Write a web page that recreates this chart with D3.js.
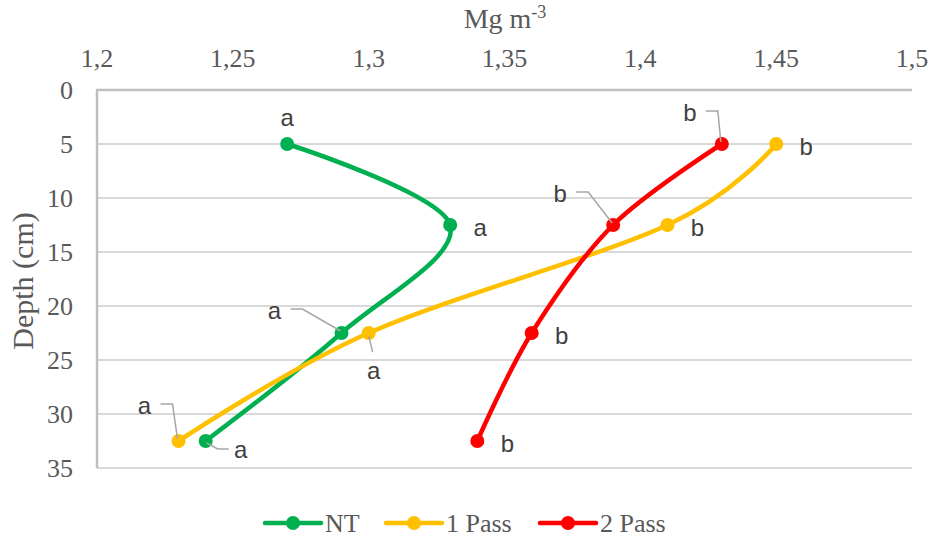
<!DOCTYPE html>
<html>
<head>
<meta charset="utf-8">
<script src="https://cdn.jsdelivr.net/npm/d3@7.9.0/dist/d3.min.js"></script>
<style>
  body { margin: 0; background: #fff; }
</style>
</head>
<body>
<svg width="933" height="538"></svg>
<script>
// data
const depths = [5, 12.5, 22.5, 32.5];
const seriesNames = ["NT", "1 Pass", "2 Pass"];
const ntValues = [1.27, 1.33, 1.29, 1.24];
const pass1Values = [1.45, 1.41, 1.30, 1.23];
const pass2Values = [1.43, 1.39, 1.36, 1.34];
const ntLetters = ["a", "a", "a", "a"];
const pass1Letters = ["b", "b", "a", "a"];
const pass2Letters = ["b", "b", "b", "b"];
const xTicks = [1.2, 1.25, 1.3, 1.35, 1.4, 1.45, 1.5];
const yTicks = [0, 5, 10, 15, 20, 25, 30, 35];

const colors = ["#00b050", "#ffc000", "#ff0000"];
const SERIF = "'Liberation Serif', 'Times New Roman', 'DejaVu Serif', serif";
const SANS = "'Liberation Sans', Arial, sans-serif";

// label placement: [dx, dy, leader type] relative to the point
// leader: 0 none, 1 stub above-left, 2 below, 3 right-down
const ntPlace = [[0, -26, 0], [30, 3, 0], [-67, -22, 1], [35, 9, 3]];
const pass1Place = [[30, 3, 0], [30, 3, 0], [5, 38, 2], [-34, -35, 1]];
const pass2Place = [[-32, -31, 1], [-53, -31, 1], [30, 3, 0], [30, 3, 0]];

const series = [
  { name: seriesNames[0], values: ntValues, letters: ntLetters, place: ntPlace, color: colors[0] },
  { name: seriesNames[1], values: pass1Values, letters: pass1Letters, place: pass1Place, color: colors[1] },
  { name: seriesNames[2], values: pass2Values, letters: pass2Letters, place: pass2Place, color: colors[2] }
];

const svg = d3.select("svg");
const x = d3.scaleLinear().domain([1.2, 1.5]).range([97, 912]);
const y = d3.scaleLinear().domain([0, 35]).range([90, 468]);
const fmt = d => String(d).replace(".", ",");

// gridlines
svg.append("g").selectAll("line").data(yTicks.slice(1)).join("line")
  .attr("x1", x(1.2)).attr("x2", x(1.5))
  .attr("y1", d => y(d)).attr("y2", d => y(d))
  .attr("stroke", "#d9d9d9").attr("stroke-width", 2);

// axes lines
svg.append("line").attr("x1", x(1.2) - 1).attr("x2", x(1.5)).attr("y1", y(0)).attr("y2", y(0))
  .attr("stroke", "#bfbfbf").attr("stroke-width", 2.5);
svg.append("line").attr("x1", x(1.2)).attr("x2", x(1.2)).attr("y1", y(0)).attr("y2", y(35))
  .attr("stroke", "#bfbfbf").attr("stroke-width", 2.5);

// tick labels
svg.append("g").selectAll("text").data(xTicks).join("text")
  .attr("x", d => x(d)).attr("y", 67)
  .attr("text-anchor", "middle").attr("font-size", 26)
  .attr("font-family", SERIF).attr("fill", "#595959")
  .text(fmt);
svg.append("g").selectAll("text").data(yTicks).join("text")
  .attr("x", 73).attr("y", d => y(d) + 9)
  .attr("text-anchor", "end").attr("font-size", 26)
  .attr("font-family", SERIF).attr("fill", "#595959")
  .text(d => d);

// axis titles
const xt = svg.append("text").attr("x", 505).attr("y", 28)
  .attr("text-anchor", "middle").attr("font-size", 28)
  .attr("font-family", SERIF).attr("fill", "#595959");
xt.append("tspan").text("Mg m");
xt.append("tspan").attr("dy", -10).attr("font-size", 18).text("-3");
svg.append("text").attr("transform", "translate(33,281) rotate(-90)")
  .attr("text-anchor", "middle").attr("font-size", 30)
  .attr("font-family", SERIF).attr("fill", "#595959").text("Depth (cm)");

// lines
const line = d3.line().x(d => x(d[0])).y(d => y(d[1])).curve(d3.curveCatmullRom.alpha(0));

series.forEach(s => {
  const pts = s.values.map((v, i) => [v, depths[i]]);
  svg.append("path").datum(pts).attr("d", line)
    .attr("fill", "none").attr("stroke", s.color).attr("stroke-width", 4.5)
    .attr("stroke-linecap", "round");
  svg.append("g").selectAll("circle").data(pts).join("circle")
    .attr("cx", d => x(d[0])).attr("cy", d => y(d[1])).attr("r", 7)
    .attr("fill", s.color);
});

// data labels with leader lines
series.forEach(s => {
  s.values.forEach((v, i) => {
    const px = x(v), py = y(depths[i]);
    const [dx, dy, leader] = s.place[i];
    const lx = px + dx, ly = py + dy;
    let pts = null;
    if (leader === 1) pts = [[lx + 16, ly - 2], [lx + 28, ly - 2], [px - 1, py - 2]];
    if (leader === 2) pts = [[px, py + 3], [px + 4, py + 19]];
    if (leader === 3) pts = [[px + 1, py + 2], [px + 12, py + 8], [lx - 12, py + 8]];
    if (pts) {
      svg.append("polyline").attr("points", pts.map(p => p.join(",")).join(" "))
        .attr("fill", "none").attr("stroke", "#a6a6a6").attr("stroke-width", 1.5);
    }
    svg.append("text")
      .attr("x", lx).attr("y", ly + 8)
      .attr("text-anchor", "middle").attr("font-size", 24)
      .attr("font-family", SANS).attr("fill", "#404040")
      .text(s.letters[i]);
  });
});

// legend
const legendX = [265, 386, 540];
series.forEach((s, i) => {
  const g = svg.append("g").attr("transform", `translate(${legendX[i]},523)`);
  g.append("line").attr("x1", 0).attr("x2", 56).attr("stroke", s.color).attr("stroke-width", 4.5)
    .attr("stroke-linecap", "round");
  g.append("circle").attr("cx", 28).attr("r", 7).attr("fill", s.color);
  g.append("text").attr("x", 60).attr("y", 9).attr("font-size", 26)
    .attr("font-family", SERIF).attr("fill", "#595959").text(s.name);
});
</script>
</body>
</html>
